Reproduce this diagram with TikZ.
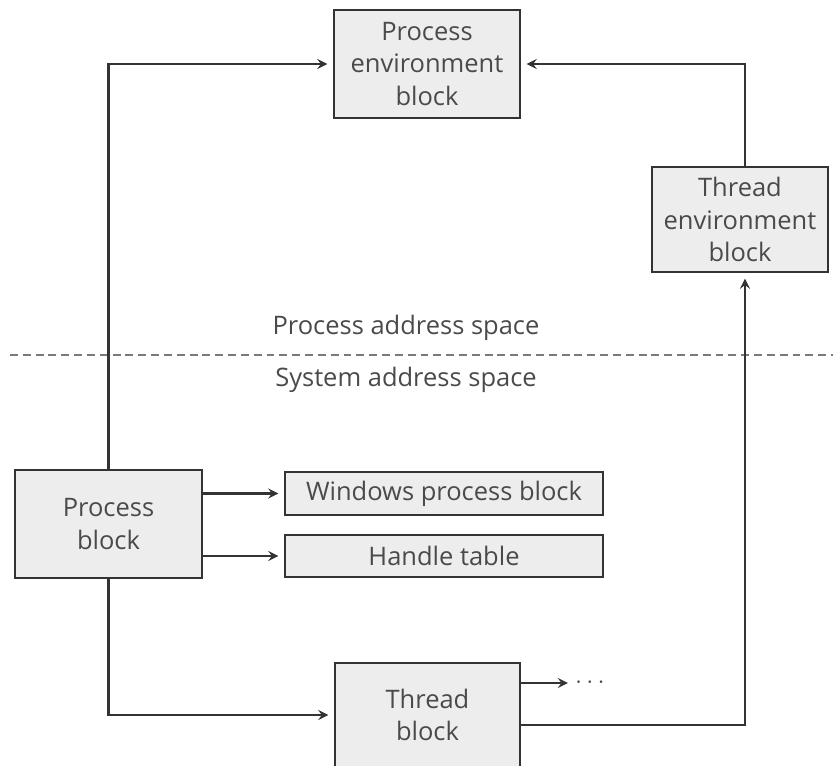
\documentclass[tikz,border=0pt]{standalone}
\usepackage{fontspec}
\setmainfont{Open Sans}
\definecolor{boxfill}{HTML}{EDEDED}
\definecolor{linegray}{HTML}{333333}
\definecolor{textgray}{HTML}{4A4A4A}
\definecolor{dashgray}{HTML}{7A7A7A}
\begin{document}
\begin{tikzpicture}[
	blk/.style={draw=linegray,fill=boxfill,line width=1.6pt,text=textgray,align=center,inner sep=0pt,font=\fontsize{14.5}{18.5}\selectfont},
	lbl/.style={text=textgray,inner sep=1pt,font=\fontsize{14.5}{18.5}\selectfont},
	arr/.style={draw=linegray,line width=1.5pt,->,>=stealth,shorten >=3pt}
	]
			\useasboundingbox (0,0) rectangle (16.66,15.3);
			\clip (0,0) rectangle (16.66,15.3);
			
			\node[blk,minimum width=3.72cm,minimum height=2.16cm] (peb) at (8.54,14.02){Process\\environment\\block};
			\node[blk,minimum width=3.52cm,minimum height=2.1cm] (teb) at (14.8,10.91){Thread\\environment\\block};
			
			\node[lbl] (pas) at (8.12,8.74){Process address space};
			\node[lbl] (sas) at (8.12,7.7){System address space};
			\coordinate (dl) at (0.2,8.2);
			\coordinate (dr) at (16.66,8.2);
			
			\node[blk,minimum width=3.74cm,minimum height=2.16cm] (pb) at (2.17,4.82){Process\\block};
			\node[blk,minimum width=6.36cm,minimum height=0.86cm] (wpb) at (8.88,5.43){Windows process block};
			\node[blk,minimum width=6.36cm,minimum height=0.84cm] (ht) at (8.88,4.18){Handle table};
			\node[blk,minimum width=3.7cm,minimum height=2.08cm] (tb) at (8.55,1.0){Thread\\block};
			\node[lbl] (more) at (11.8,1.64){\textbf{$\cdots$}};
			
			\draw[dashgray,line width=1.5pt,dash pattern=on 4.5pt off 2.8pt] (dl) -- (dr);
			
			\draw[arr] (pb.north) |- (peb.west);
			\draw[arr] ([xshift=0.1cm]teb.north) |- (peb.east);
			\draw[arr] (pb.east |- wpb.west) -- (wpb.west);
			\draw[arr] (pb.east |- ht.west) -- (ht.west);
			\draw[arr] (pb.south) |- (tb.west);
			\draw[arr] (tb.east |- more) -- (more.west);
			\draw[arr] ([yshift=-0.2cm]tb.east) -| ([xshift=0.1cm]teb.south);
		\end{tikzpicture}
\end{document}
